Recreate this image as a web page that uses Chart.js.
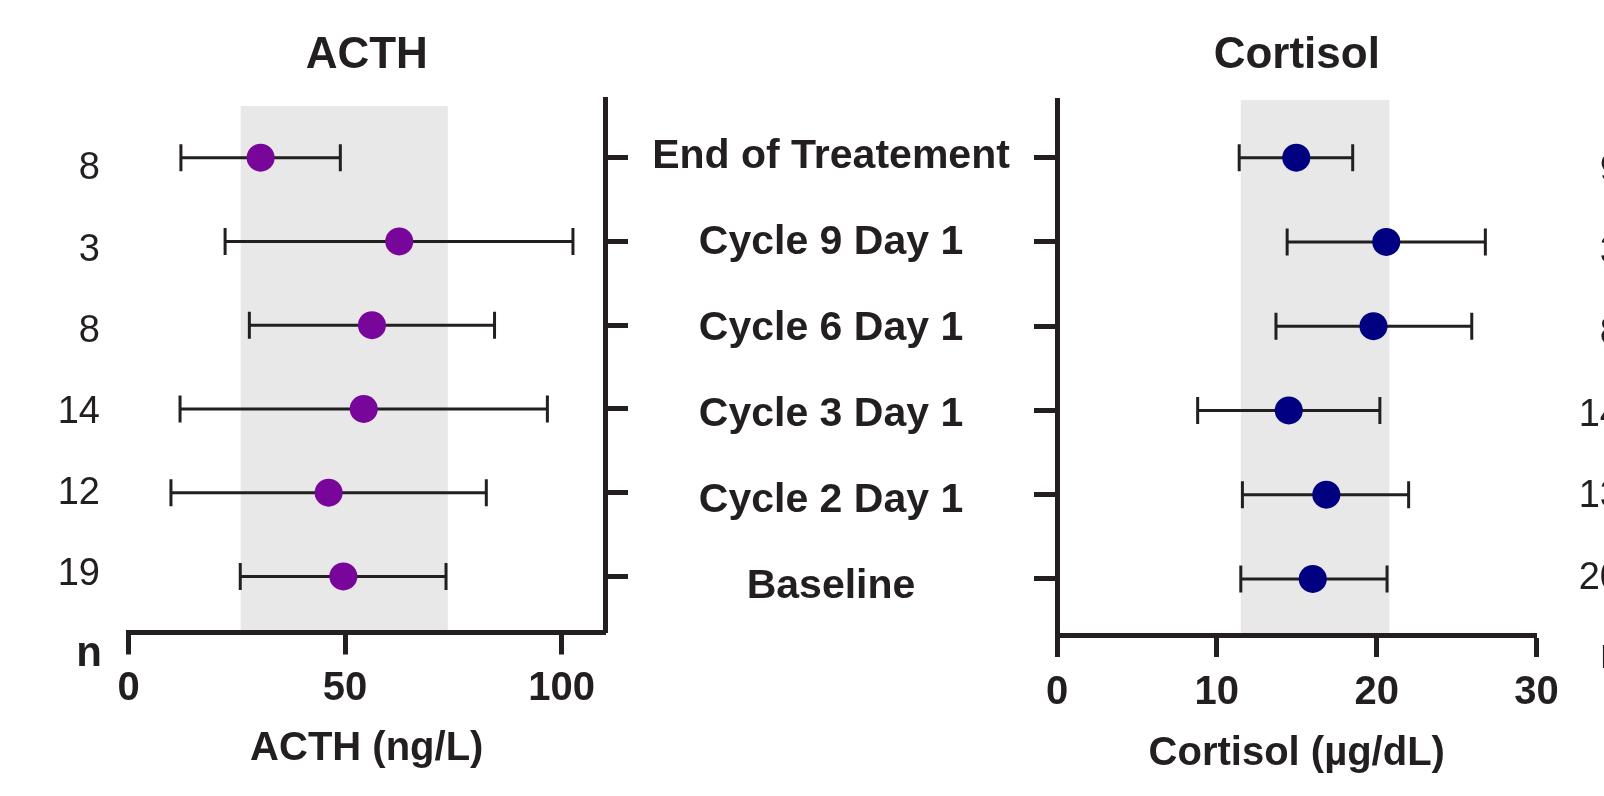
<!DOCTYPE html>
<html>
<head>
<meta charset="utf-8">
<title>ACTH and Cortisol</title>
<script src="https://cdn.jsdelivr.net/npm/chart.js@4.4.1/dist/chart.umd.min.js"></script>
<style>
  body { margin: 0; background: #fff; overflow: hidden; }
  #wrap { position: relative; width: 1604px; height: 796px; overflow: hidden; }
  canvas { position: absolute; left: 0; top: 0; }
</style>
</head>
<body>
<div id="wrap">
  <canvas id="acth" width="1604" height="796"></canvas>
  <canvas id="cortisol" width="1640" height="796"></canvas>
</div>
<script>
// rows from bottom to top
var categories = ["Baseline", "Cycle 2 Day 1", "Cycle 3 Day 1", "Cycle 6 Day 1", "Cycle 9 Day 1", "End of Treatement"];
var rowPos = [1, 2, 3, 4, 5, 6];

var acthN = [19, 12, 14, 8, 3, 8];
var acthMean = [49.6, 46.2, 54.3, 56.2, 62.5, 30.5];
var acthLow = [25.8, 9.8, 11.9, 27.9, 22.3, 12.1];
var acthHigh = [73.3, 82.6, 96.7, 84.5, 102.6, 48.9];
var acthRange = [25.9, 73.7];
var acthTicks = [0, 50, 100];

var cortisolN = [20, 13, 14, 8, 3, 9];
var cortisolMean = [16.0, 16.85, 14.5, 19.8, 20.6, 14.97];
var cortisolLow = [11.5, 11.6, 8.8, 13.7, 14.4, 11.4];
var cortisolHigh = [20.65, 22.0, 20.2, 25.95, 26.8, 18.5];
var cortisolRange = [11.5, 20.8];
var cortisolTicks = [0, 10, 20, 30];

var INK = '#231f20';
Chart.defaults.font.family = "'Liberation Sans', Arial, Helvetica, sans-serif";
Chart.defaults.color = INK;

function rowTicks(scale) {
  scale.ticks = rowPos.map(function (v) { return { value: v }; });
}

function buildDatasets(mean, low, high, color) {
  var sets = [{
    type: 'scatter',
    xAxisID: 'x', yAxisID: 'y',
    data: mean.map(function (m, i) { return { x: m, y: rowPos[i] }; }),
    backgroundColor: color,
    borderWidth: 0,
    pointRadius: 14,
    pointHoverRadius: 14,
    order: 0
  }];
  for (var i = 0; i < rowPos.length; i++) {
    sets.push({
      type: 'line',
      xAxisID: 'x', yAxisID: 'y',
      data: [{ x: low[i], y: rowPos[i] }, { x: high[i], y: rowPos[i] }],
      borderColor: INK,
      borderWidth: 3,
      pointStyle: 'line',
      pointRotation: 90,
      pointRadius: 13.5,
      pointHoverRadius: 13.5,
      pointBorderColor: INK,
      pointBorderWidth: 3,
      fill: false,
      order: 1
    });
  }
  return sets;
}

// grey reference range behind the points
var bandPlugin = {
  id: 'refBand',
  beforeDraw: function (chart, args, opts) {
    var xs = chart.scales.x, ys = chart.scales.y, ctx = chart.ctx;
    var x0 = xs.getPixelForValue(opts.range[0]);
    var x1 = xs.getPixelForValue(opts.range[1]);
    var y0 = ys.getPixelForValue(opts.top);
    ctx.save();
    ctx.fillStyle = opts.color;
    ctx.fillRect(x0, y0, x1 - x0, chart.chartArea.bottom - y0);
    ctx.restore();
  }
};

// row names in the middle and the little "n" headers
var textPlugin = {
  id: 'extraText',
  afterDraw: function (chart, args, opts) {
    var ctx = chart.ctx;
    ctx.save();
    ctx.fillStyle = INK;
    if (opts.labels) {
      var yc = chart.scales.yc;
      ctx.font = "bold 41px 'Liberation Sans', Arial, sans-serif";
      ctx.textAlign = 'center';
      ctx.textBaseline = 'middle';
      opts.labels.forEach(function (t, i) {
        ctx.fillText(t, opts.labelX, yc.getPixelForValue(rowPos[i]));
      });
    }
    ctx.font = "bold 42px 'Liberation Sans', Arial, sans-serif";
    ctx.textAlign = opts.nAlign;
    ctx.textBaseline = 'alphabetic';
    ctx.fillText('n', opts.nX, opts.nY);
    ctx.restore();
  }
};

new Chart(document.getElementById('acth'), {
  type: 'scatter',
  data: { datasets: buildDatasets(acthMean, acthLow, acthHigh, '#78069a') },
  plugins: [bandPlugin, textPlugin],
  options: {
    responsive: false,
    animation: false,
    events: [],
    layout: { padding: 0 },
    plugins: {
      legend: { display: false },
      tooltip: { enabled: false },
      refBand: { range: acthRange, top: 6.616, color: '#e8e8e8' },
      extraText: { labels: categories, labelX: 831, nX: 102, nY: 666, nAlign: 'right' }
    },
    scales: {
      x: {
        type: 'linear', position: 'bottom', min: 0, max: 110,
        afterBuildTicks: function (s) { s.ticks = acthTicks.map(function (v) { return { value: v }; }); },
        afterFit: function (s) { s.height = 163.5; },
        border: { display: true, width: 5, color: INK },
        grid: { display: true, drawOnChartArea: false, drawTicks: true, tickLength: 22, tickWidth: 5, tickColor: INK },
        ticks: { color: INK, font: { size: 40, weight: 'bold' }, padding: 10, maxRotation: 0, autoSkip: false },
        title: { display: true, text: 'ACTH (ng/L)', color: INK, font: { size: 40, weight: 'bold' }, padding: { top: 0, bottom: 23 } }
      },
      xt: {
        type: 'linear', axis: 'x', position: 'top', min: 0, max: 110,
        afterFit: function (s) { s.height = 99; },
        border: { display: false },
        grid: { display: false },
        ticks: { display: false },
        title: { display: true, text: 'ACTH', color: INK, font: { size: 44, weight: 'bold' }, padding: { top: 29, bottom: 0 } }
      },
      y: {
        type: 'linear', axis: 'y', position: 'right', min: 0.33, max: 6.70,
        afterBuildTicks: rowTicks,
        afterFit: function (s) { s.width = 999; },
        border: { display: true, width: 5, color: INK },
        grid: { display: true, drawOnChartArea: false, drawTicks: true, tickLength: 23, tickWidth: 5, tickColor: INK },
        ticks: { display: false }
      },
      yn: {
        type: 'linear', axis: 'y', position: 'left', min: 0.285, max: 6.863,
        afterBuildTicks: rowTicks,
        afterFit: function (s) { s.width = 128.5; },
        border: { display: false },
        grid: { display: false },
        ticks: {
          color: INK, font: { size: 38 }, padding: 20.5,
          callback: function (v) { var i = rowPos.indexOf(v); return i >= 0 ? String(acthN[i]) : ''; }
        }
      },
      yc: { type: 'linear', axis: 'y', display: false, min: 0.468, max: 6.669 }
    }
  }
});

new Chart(document.getElementById('cortisol'), {
  type: 'scatter',
  data: { datasets: buildDatasets(cortisolMean, cortisolLow, cortisolHigh, '#000080') },
  plugins: [bandPlugin, textPlugin],
  options: {
    responsive: false,
    animation: false,
    events: [],
    layout: { padding: { left: 0, right: 19, top: 0, bottom: 0 } },
    plugins: {
      legend: { display: false },
      tooltip: { enabled: false },
      refBand: { range: cortisolRange, top: 6.685, color: '#e8e8e8' },
      extraText: { nX: 1600, nY: 668, nAlign: 'left' }
    },
    scales: {
      x: {
        type: 'linear', position: 'bottom', min: 0, max: 30,
        afterBuildTicks: function (s) { s.ticks = cortisolTicks.map(function (v) { return { value: v }; }); },
        afterFit: function (s) { s.height = 161; },
        border: { display: true, width: 5, color: INK },
        grid: { display: true, drawOnChartArea: false, drawTicks: true, tickLength: 22, tickWidth: 5, tickColor: INK },
        ticks: { color: INK, font: { size: 40, weight: 'bold' }, padding: 12, maxRotation: 0, autoSkip: false },
        title: { display: true, text: 'Cortisol (\u00b5g/dL)', color: INK, font: { size: 40, weight: 'bold' }, padding: { top: 0, bottom: 18 } }
      },
      xt: {
        type: 'linear', axis: 'x', position: 'top', min: 0, max: 30,
        afterFit: function (s) { s.height = 100; },
        border: { display: false },
        grid: { display: false },
        ticks: { display: false },
        title: { display: true, text: 'Cortisol', color: INK, font: { size: 44, weight: 'bold' }, padding: { top: 29, bottom: 0 } }
      },
      y: {
        type: 'linear', axis: 'y', position: 'left', min: 0.335, max: 6.685,
        afterBuildTicks: rowTicks,
        afterFit: function (s) { s.width = 1057; },
        border: { display: true, width: 5, color: INK },
        grid: { display: true, drawOnChartArea: false, drawTicks: true, tickLength: 23, tickWidth: 5, tickColor: INK },
        ticks: { display: false }
      },
      yn: {
        type: 'linear', axis: 'y', position: 'right', min: 0.309, max: 6.865,
        afterBuildTicks: rowTicks,
        afterFit: function (s) { s.width = 84.5; },
        border: { display: false },
        grid: { display: false },
        ticks: {
          color: INK, font: { size: 38 }, padding: 0, crossAlign: 'far',
          callback: function (v) { var i = rowPos.indexOf(v); return i >= 0 ? String(cortisolN[i]) : ''; }
        }
      }
    }
  }
});
</script>
</body>
</html>
